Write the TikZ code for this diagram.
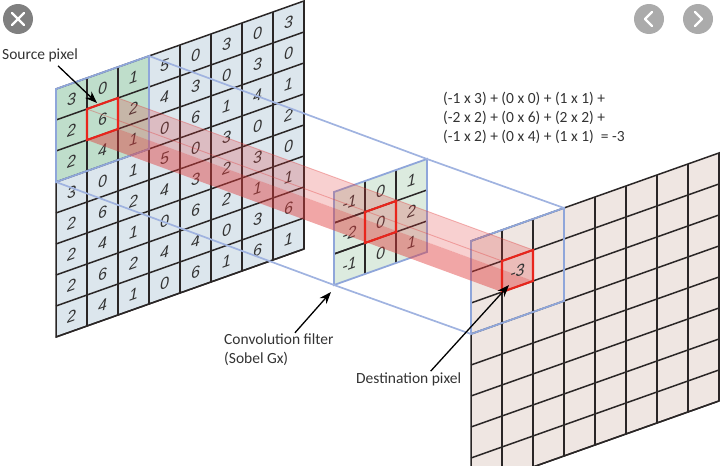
\documentclass[tikz,border=0pt]{standalone}
\usepackage{fontspec}
\setmainfont{Carlito}
\newfontfamily\cellfont{Liberation Sans}
\usetikzlibrary{arrows.meta}

\definecolor{inkline}{HTML}{2A2626}
\definecolor{srcfill}{HTML}{DCE6ED}
\definecolor{srcgreen}{HTML}{BFDECB}
\definecolor{filtgreen}{HTML}{DCEBDF}
\definecolor{dstfill}{HTML}{EFE6E2}
\definecolor{winblue}{HTML}{8FA6DA}
\definecolor{pixred}{HTML}{E8251C}
\definecolor{beamred}{HTML}{E03A3A}
\definecolor{labelgray}{HTML}{333333}

\tikzset{
  gridline/.style={draw=inkline, line width=1.5pt},
  winline/.style={draw=winblue, line width=1.8pt},
  linkline/.style={draw=winblue!85!white, line width=1.7pt},
  pixbox/.style={draw=pixred, line width=2.1pt, line join=miter},
  cellnum/.style={transform shape, inner sep=0pt, text=labelgray, font=\cellfont\itshape\fontsize{16}{16}\selectfont},
  caption/.style={inner sep=0pt, anchor=west, align=left, text=labelgray, font=\fontsize{15.5}{19}\selectfont},
  pointer/.style={-{Stealth[length=12pt,width=9pt]}, line width=1.3pt, black},
  roundbtn/.style={circle, inner sep=0pt, minimum size=30pt},
  btnmark/.style={draw=white, line width=2.2pt, line cap=round, line join=round},
  cellarea/.style={shift={#1}, yslant=.355}
}

\newcommand{\cellgrid}[2]{%
  \foreach \cc in {1,...,#1} {\draw[gridline] (\cc*31,0) -- (\cc*31,#2*31);}
  \foreach \rr in {1,...,#2} {\draw[gridline] (0,\rr*31) -- (#1*31,\rr*31);}
}

\begin{document}
\begin{tikzpicture}[x=1pt, y=-1pt]
  \useasboundingbox (0,0) rectangle (721,466);
  \clip (0,0) rectangle (721,466);

  % Source image
  \begin{scope}[cellarea={(56,89)}]
    \fill[srcfill] (0,0) rectangle (248,248);
    \fill[srcgreen] (0,0) rectangle (93,93);
    \cellgrid{8}{8}
    \draw[gridline] (0,0) rectangle (248,248);
    \foreach \vals [count=\r] in {{3,0,1,5,0,3,0,3},{2,6,2,4,3,0,3,0},{2,4,1,0,6,1,4,1},{3,0,1,5,0,3,0,2},{2,6,2,4,3,2,3,0},{2,4,1,0,6,2,1,1},{2,6,2,4,4,0,3,6},{2,4,1,0,6,1,6,1}}
      \foreach \v [count=\c] in \vals
        \node (src-\r-\c) [cellnum] at ({\c*31-15.5},{\r*31-15.5}) {\v};
    \draw[winline] (0,0) rectangle (93,93);
    \coordinate (sw-tr) at (93,0);
    \coordinate (sw-bl) at (0,93);
    \coordinate (sp-tl) at (31,31);
    \coordinate (sp-tr) at (62,31);
    \coordinate (sp-br) at (62,62);
    \coordinate (sp-bl) at (31,62);
  \end{scope}

  % Destination image
  \begin{scope}[cellarea={(471,241)}]
    \fill[dstfill] (0,0) rectangle (248,248);
    \cellgrid{8}{8}
    \draw[gridline] (0,0) rectangle (248,248);
    \draw[winline] (0,0) rectangle (93,93);
    \coordinate (dw-tr) at (93,0);
    \coordinate (dw-bl) at (0,93);
    \coordinate (dp-tl) at (31,31);
    \coordinate (dp-tr) at (62,31);
    \coordinate (dp-br) at (62,62);
    \coordinate (dp-bl) at (31,62);
  \end{scope}

  % Convolution filter
  \begin{scope}[cellarea={(334,192)}]
    \fill[filtgreen] (0,0) rectangle (93,93);
    \cellgrid{2}{2}
    \draw[gridline] (31,0) -- (31,93);
    \draw[gridline] (62,0) -- (62,93);
    \draw[gridline] (0,31) -- (93,31);
    \draw[gridline] (0,62) -- (93,62);
    \foreach \vals [count=\r] in {{-1,0,1},{-2,0,2},{-1,0,1}}
      \foreach \v [count=\c] in \vals
        \node (flt-\r-\c) [cellnum] at ({\c*31-15.5},{\r*31-15.5}) {\v};
    \draw[winline] (0,0) rectangle (93,93);
    \coordinate (fw-tr) at (93,0);
    \coordinate (fw-bl) at (0,93);
    \coordinate (fp-tl) at (31,31);
    \coordinate (fp-tr) at (62,31);
    \coordinate (fp-br) at (62,62);
    \coordinate (fp-bl) at (31,62);
  \end{scope}

  % Window links
  \draw[linkline] (sw-tr) -- (fw-tr) -- (dw-tr);
  \draw[linkline] (sw-bl) -- (fw-bl) -- (dw-bl);

  % Red beam
  \fill[beamred, opacity=.24] (sp-tr) -- (dp-tr) -- (dp-br) -- (sp-br) -- cycle;
  \fill[beamred, opacity=.45] (sp-bl) -- (sp-br) -- (dp-br) -- (dp-bl) -- cycle;
  \draw[beamred, opacity=.35, line width=.9pt] (sp-tl) -- (dp-tl);
  \draw[beamred, opacity=.35, line width=.9pt] (sp-tr) -- (dp-tr);

  % Result value and pixel frames
  \begin{scope}[cellarea={(471,241)}]
    \node (dstval) [cellnum] at (46.5,46.5) {-3};
  \end{scope}
  \draw[pixbox] (sp-tl) -- (sp-tr) -- (sp-br) -- (sp-bl) -- cycle;
  \draw[pixbox] (fp-tl) -- (fp-tr) -- (fp-br) -- (fp-bl) -- cycle;
  \draw[pixbox] (dp-tl) -- (dp-tr) -- (dp-br) -- (dp-bl) -- cycle;

  % Labels
  \node (srclabel) [caption] at (2,55) {Source pixel};
  \node (fltlabel) [caption] at (224,350) {Convolution filter\\(Sobel Gx)};
  \node (dstlabel) [caption] at (356,379) {Destination pixel};
  \node (sumlabel) [caption] at (443,118) {(-1 x 3) + (0 x 0) + (1 x 1) +\\(-2 x 2) + (0 x 6) + (2 x 2) +\\(-1 x 2) + (0 x 4) + (1 x 1) ~= -3};

  % Pointers
  \coordinate (srctip) at (97,103);
  \coordinate (flttip) at (331,292);
  \coordinate (dsttip) at (509,285);
  \draw[pointer] ([xshift=18pt,yshift=-4pt]srclabel.south) -- (srctip);
  \draw[pointer] ([xshift=16pt,yshift=1pt]fltlabel.north) -- (flttip);
  \draw[pointer] ([xshift=22pt,yshift=1pt]dstlabel.north) -- (dsttip);

  % Viewer buttons
  \node (closebtn) [roundbtn, fill=black!50] at (18,19) {};
  \node (prevbtn) [roundbtn, fill=black!33] at (649,19) {};
  \node (nextbtn) [roundbtn, fill=black!33] at (698,19) {};
  \draw[btnmark] ([shift={(-6,-6)}]closebtn.center) -- ([shift={(6,6)}]closebtn.center);
  \draw[btnmark] ([shift={(-6,6)}]closebtn.center) -- ([shift={(6,-6)}]closebtn.center);
  \draw[btnmark] ([shift={(3,-7)}]prevbtn.center) -- ([shift={(-4,0)}]prevbtn.center) -- ([shift={(3,7)}]prevbtn.center);
  \draw[btnmark] ([shift={(-3,-7)}]nextbtn.center) -- ([shift={(4,0)}]nextbtn.center) -- ([shift={(-3,7)}]nextbtn.center);
\end{tikzpicture}
\end{document}
